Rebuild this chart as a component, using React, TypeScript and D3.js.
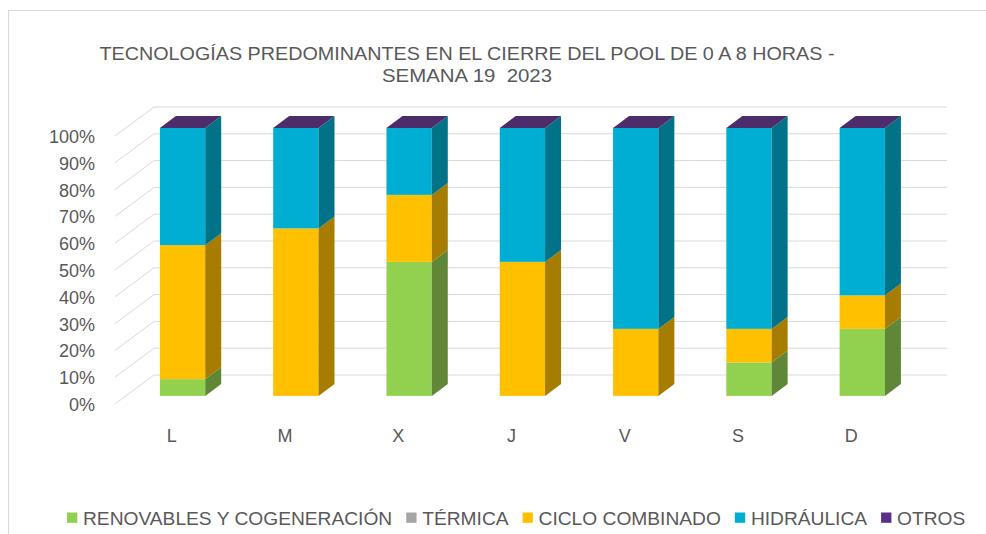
import React, { useLayoutEffect, useRef, useState } from "react";
import * as d3 from "d3";

const categories = ["L", "M", "X", "J", "V", "S", "D"];
const seriesNames = ["RENOVABLES Y COGENERACIÓN", "TÉRMICA", "CICLO COMBINADO", "HIDRÁULICA", "OTROS"];
const renovables = [6.25, 0, 50, 0, 0, 12.5, 25];
const termica = [0, 0, 0, 0, 0, 0, 0];
const cicloCombinado = [50, 62.5, 25, 50, 25, 12.5, 12.5];
const hidraulica = [43.75, 37.5, 25, 50, 75, 75, 62.5];
const otros = [0, 0, 0, 0, 0, 0, 0];
const yTicks = [0, 10, 20, 30, 40, 50, 60, 70, 80, 90, 100];
const titleLines = ["TECNOLOGÍAS PREDOMINANTES EN EL CIERRE DEL POOL DE 0 A 8 HORAS -", "SEMANA 19  2023"];

const seriesValues = [renovables, termica, cicloCombinado, hidraulica, otros];
const frontColors = ["#92D050", "#A5A5A5", "#FFC000", "#00AED3", "#5B2F8C"];
const sideColors = ["#5F8737", "#6B6B6B", "#A67D00", "#007388", "#3B1F5B"];
const topColors = ["#A8DA72", "#BDBDBD", "#FFCF40", "#33BEDC", "#4D2C6C"];

const FONT = "'Liberation Sans', Arial, sans-serif";
const TEXT = "#595959";

export default function App() {
  const width = 986;
  const height = 534;
  const x = d3.scaleBand().domain(categories).range([115, 908]);
  const y = d3.scaleLinear().domain([0, 100]).range([404, 136]);
  const DX = 39;
  const DY = -29;
  const t1 = 0.28;
  const t2 = 0.69;
  const barW = x.bandwidth() * 0.4;

  const legendRefs = useRef<(SVGTextElement | null)[]>([]);
  const [legendWidths, setLegendWidths] = useState<number[] | null>(null);
  useLayoutEffect(() => {
    const w = legendRefs.current.map((el) => (el ? el.getComputedTextLength() : 0));
    setLegendWidths(w);
  }, []);

  const stack = d3.stack<number>().keys(d3.range(seriesNames.length).map(String))
    .value((i, k) => seriesValues[+k][i]);
  const stacked = stack(d3.range(categories.length));

  const bars: React.ReactNode[] = [];
  categories.forEach((c, ci) => {
    const cx = (x(c) as number) + x.bandwidth() / 2;
    const fx0 = cx - barW / 2 + DX * t1;
    const fx1 = cx + barW / 2 + DX * t1;
    const bx1 = cx + barW / 2 + DX * t2;
    const bx0 = cx - barW / 2 + DX * t2;
    const dyF = DY * t1;
    const dyB = DY * t2;
    stacked.forEach((s, si) => {
      const [v0, v1] = s[ci];
      if (v1 - v0 <= 0) return;
      const yb = y(v0);
      const yt = y(v1);
      bars.push(
        <g key={`${c}-${si}`}>
          <rect x={fx0} y={yt + dyF} width={fx1 - fx0} height={yb - yt} fill={frontColors[si]} />
          <polygon
            points={`${fx1},${yb + dyF} ${fx1},${yt + dyF} ${bx1},${yt + dyB} ${bx1},${yb + dyB}`}
            fill={sideColors[si]}
          />
        </g>
      );
    });
    const last = stacked.length - 1;
    const yTop = y(stacked[last][ci][1]);
    bars.push(
      <polygon
        key={`${c}-top`}
        points={`${fx0},${yTop + dyF} ${fx1},${yTop + dyF} ${bx1},${yTop + dyB} ${bx0},${yTop + dyB}`}
        fill={topColors[last]}
      />
    );
  });

  // legend layout
  const legendItems: React.ReactNode[] = [];
  let lx = 67;
  seriesNames.forEach((n, i) => {
    const w = legendWidths ? legendWidths[i] : 100;
    legendItems.push(
      <g key={n}>
        <rect x={lx} y={512.5} width={10.3} height={10.3} fill={frontColors[i]} />
        <text
          ref={(el) => { legendRefs.current[i] = el; }}
          x={lx + 16}
          y={525}
          fontSize={19.2}
          fill={TEXT}
          fontFamily={FONT}
        >
          {n}
        </text>
      </g>
    );
    lx += 16 + w + 14;
  });

  return (
    <svg width={width} height={height} style={{ position: "absolute", left: 0, top: 0, background: "#fff" }}>
      <rect x={8.5} y={10.5} width={990} height={600} fill="none" stroke="#D9D9D9" strokeWidth={1} />
      {titleLines.map((t, i) => (
        <text
          key={i}
          x={467}
          y={60 + i * 22}
          textAnchor="middle"
          fontSize={18}
          fill={TEXT}
          fontFamily={FONT}
          textLength={i === 0 ? 735 : 170}
          lengthAdjust="spacingAndGlyphs"
          style={{ whiteSpace: "pre" }}
        >
          {t}
        </text>
      ))}
      {yTicks.map((v) => (
        <g key={v}>
          <line x1={115} y1={y(v)} x2={115 + DX} y2={y(v) + DY} stroke="#D9D9D9" strokeWidth={1} />
          <line x1={115 + DX} y1={y(v) + DY} x2={908 + DX} y2={y(v) + DY} stroke="#D9D9D9" strokeWidth={1} />
          <text x={95} y={y(v) + 7} textAnchor="end" fontSize={18} fill={TEXT} fontFamily={FONT}>
            {v}%
          </text>
        </g>
      ))}
      {bars}
      {categories.map((c) => (
        <text
          key={c}
          x={(x(c) as number) + x.bandwidth() / 2}
          y={442}
          textAnchor="middle"
          fontSize={18}
          fill={TEXT}
          fontFamily={FONT}
        >
          {c}
        </text>
      ))}
      {legendItems}
    </svg>
  );
}
